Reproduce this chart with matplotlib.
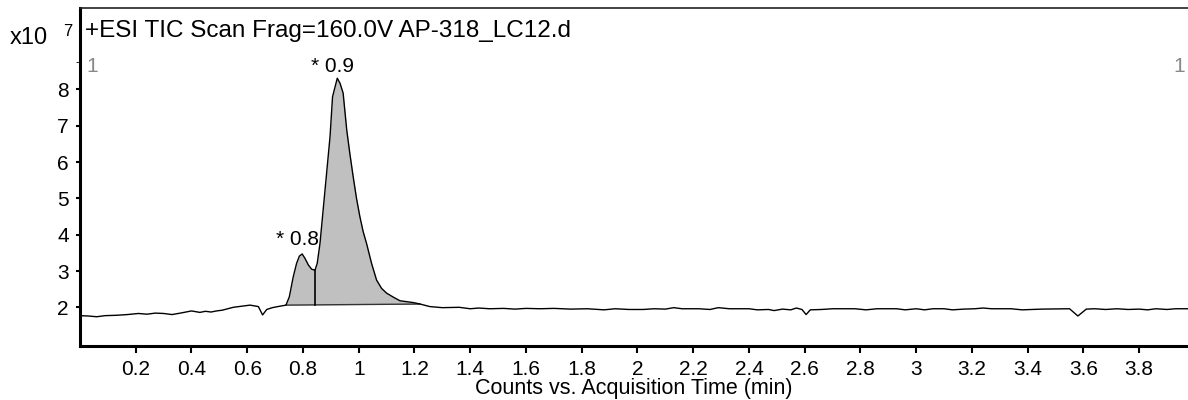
import numpy as np
import matplotlib
matplotlib.use('Agg')
import matplotlib.pyplot as plt

# chromatogram trace (min, counts x1e7)
time_min = [0.00, 0.03, 0.06, 0.09, 0.13, 0.17, 0.21, 0.24, 0.27, 0.30, 0.33, 0.36,
            0.40, 0.43, 0.45, 0.47, 0.49, 0.51, 0.55, 0.58, 0.61, 0.64, 0.655, 0.67,
            0.69, 0.71, 0.739, 0.751, 0.765, 0.777, 0.787, 0.797, 0.807, 0.819, 0.831,
            0.843, 0.851, 0.861, 0.879, 0.897, 0.906, 0.915, 0.923, 0.933, 0.944, 0.957,
            0.968, 0.980, 0.992, 1.004, 1.016, 1.028, 1.046, 1.064, 1.082, 1.100, 1.124,
            1.148, 1.196, 1.220, 1.255, 1.30, 1.36,
            1.40, 1.43, 1.47, 1.52, 1.56, 1.60, 1.65, 1.70, 1.76, 1.82, 1.88, 1.92,
            1.97, 2.02, 2.06, 2.10, 2.13, 2.16, 2.22, 2.26, 2.29, 2.33, 2.40, 2.43,
            2.47, 2.49, 2.52, 2.55, 2.57, 2.59, 2.605, 2.62, 2.66, 2.70, 2.78, 2.82,
            2.86, 2.93, 2.96, 3.00, 3.03, 3.06, 3.10, 3.13, 3.17, 3.21, 3.24, 3.27,
            3.34, 3.38, 3.42, 3.45, 3.55, 3.58, 3.61, 3.64, 3.68, 3.72, 3.76, 3.80,
            3.83, 3.86, 3.90, 3.93, 3.975]
counts = [1.77, 1.76, 1.74, 1.77, 1.78, 1.80, 1.83, 1.81, 1.84, 1.83, 1.80, 1.84,
          1.90, 1.86, 1.89, 1.87, 1.90, 1.92, 2.00, 2.03, 2.06, 2.02, 1.79, 1.94,
          1.99, 2.02, 2.06, 2.29, 2.84, 3.21, 3.41, 3.47, 3.35, 3.17, 3.05,
          3.02, 3.21, 3.76, 5.23, 6.70, 7.80, 8.07, 8.31, 8.17, 7.90, 6.88,
          6.24, 5.60, 5.00, 4.50, 4.08, 3.76, 3.21, 2.75, 2.52, 2.39, 2.28,
          2.18, 2.13, 2.09, 2.02, 1.99, 2.00,
          1.96, 1.98, 1.96, 1.97, 1.95, 1.97, 1.96, 1.97, 1.95, 1.96, 1.93, 1.96,
          1.94, 1.94, 1.96, 1.95, 1.99, 1.96, 1.96, 1.94, 1.99, 1.96, 1.96, 1.93,
          1.94, 1.91, 1.95, 1.93, 1.98, 1.94, 1.80, 1.93, 1.94, 1.96, 1.96, 1.93,
          1.96, 1.96, 1.93, 1.96, 1.93, 1.96, 1.96, 1.93, 1.95, 1.96, 1.98, 1.96,
          1.96, 1.93, 1.94, 1.95, 1.96, 1.76, 1.95, 1.96, 1.94, 1.96, 1.94, 1.95,
          1.93, 1.96, 1.94, 1.96, 1.96]

# integrated peak region: baseline ends and split point
peak_start = (0.739, 2.06)
peak_end = (1.22, 2.09)
split_time = 0.843
peak_labels = [(0.797, 3.47, '* 0.8', (-18.5, 6.5)), (0.923, 8.31, '* 0.9', (-19, 4.5))]

x_ticks = [0.2, 0.4, 0.6, 0.8, 1.0, 1.2, 1.4, 1.6, 1.8, 2.0, 2.2, 2.4, 2.6, 2.8,
           3.0, 3.2, 3.4, 3.6, 3.8]
y_ticks = [2, 3, 4, 5, 6, 7, 8]
title = '+ESI TIC Scan Frag=160.0V AP-318_LC12.d'
x_label = 'Counts vs. Acquisition Time (min)'

plt.rcParams['font.family'] = ['Liberation Sans', 'DejaVu Sans']

W, H = 1188, 400
fig = plt.figure(figsize=(W / 100, H / 100), dpi=100)
ax = fig.add_axes([80 / W, 54 / H, 1 - 80 / W, 338 / H])

t = np.array(time_min)
c = np.array(counts)

# shaded peak area down to a straight baseline
mask = (t >= peak_start[0]) & (t <= peak_end[0])
tt = np.concatenate([[peak_start[0]], t[mask], [peak_end[0]]])
cc = np.interp(tt, t, c)
base = np.interp(tt, [peak_start[0], peak_end[0]], [peak_start[1], peak_end[1]])
ax.fill_between(tt, base, cc, color='#c0c0c0', lw=0)
ax.plot([peak_start[0], peak_end[0]], [peak_start[1], peak_end[1]], color='#333333', lw=1)
split_base = np.interp(split_time, [peak_start[0], peak_end[0]], [peak_start[1], peak_end[1]])
ax.plot([split_time, split_time], [split_base, np.interp(split_time, t, c)], color='black', lw=1.2)

ax.plot(t, c, color='black', lw=1)

for px, py, lab, off in peak_labels:
    ax.annotate(lab, (px, py), xytext=off, textcoords='offset points',
                fontsize=15, ha='left', va='baseline')

ax.set_xlim(0, 3.975)
ax.set_ylim(0.934, 10.245)
ax.set_xticks(x_ticks)
ax.set_xticklabels([f'{v:g}' for v in x_ticks])
ax.set_yticks(y_ticks)
ax.set_yticks([8.75], minor=True)
ax.tick_params(axis='both', labelsize=15, direction='out', width=1.5, colors='black')
ax.tick_params(axis='x', length=5, pad=5)
ax.tick_params(axis='y', which='both', length=3, pad=5)

ax.spines['right'].set_visible(False)
ax.spines['left'].set_linewidth(2.2)
ax.spines['bottom'].set_linewidth(2.2)
ax.spines['top'].set_linewidth(1.2)
ax.spines['top'].set_color('#222222')

ax.set_xlabel(x_label, fontsize=15.5, va='baseline')
ax.xaxis.set_label_coords(0.5, -48 / 338)

fig.text(85 / W, 1 - 37 / H, title, fontsize=17.5, ha='left', va='baseline')

# axis multiplier and segment markers
fig.text(10 / W, 1 - 38 / H, 'x10', fontsize=17, ha='left', va='center')
fig.text(63 / W, 1 - 31 / H, '7', fontsize=12, ha='left', va='center')
fig.text(86 / W, 1 - 67 / H, '1', fontsize=15, color='#888888', ha='left', va='center')
fig.text(1185 / W, 1 - 67 / H, '1', fontsize=15, color='#888888', ha='right', va='center')

fig.savefig('out.png', dpi=100)
